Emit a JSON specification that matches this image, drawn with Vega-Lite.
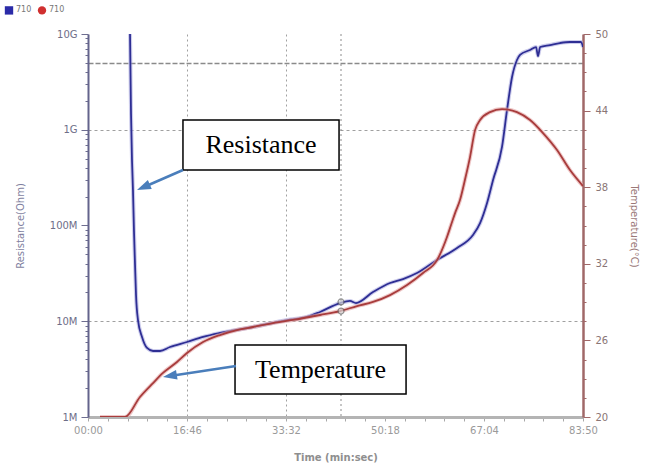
{
  "$schema": "https://vega.github.io/schema/vega-lite/v6.json",
  "width": 495,
  "height": 383,
  "autosize": "none",
  "padding": {"left": 88, "top": 34, "right": 71, "bottom": 51},
  "background": "white",
  "datasets": {
    "res": [
      {"t": 427, "R": 1e10}, {"t": 437, "R": 1.5e9}, {"t": 447, "R": 4.83e8}, {"t": 457, "R": 2.35e8},
      {"t": 467, "R": 8.98e7}, {"t": 478, "R": 3.86e7}, {"t": 488, "R": 1.88e7}, {"t": 508, "R": 1.03e7},
      {"t": 549, "R": 6.85e6}, {"t": 600, "R": 5.26e6}, {"t": 661, "R": 4.89e6}, {"t": 732, "R": 4.89e6},
      {"t": 833, "R": 5.38e6}, {"t": 1006, "R": 6.07e6}, {"t": 1169, "R": 6.85e6}, {"t": 1341, "R": 7.54e6},
      {"t": 1677, "R": 8.71e6}, {"t": 2022, "R": 1.03e7}, {"t": 2225, "R": 1.11e7}, {"t": 2358, "R": 1.25e7},
      {"t": 2561, "R": 1.55e7}, {"t": 2662, "R": 1.63e7}, {"t": 2723, "R": 1.55e7}, {"t": 2896, "R": 2.02e7},
      {"t": 3069, "R": 2.51e7}, {"t": 3201, "R": 2.76e7}, {"t": 3343, "R": 3.19e7}, {"t": 3547, "R": 4.37e7},
      {"t": 3750, "R": 5.82e7}, {"t": 3912, "R": 7.96e7}, {"t": 3984, "R": 1.06e8}, {"t": 4055, "R": 1.72e8},
      {"t": 4116, "R": 2.99e8}, {"t": 4207, "R": 6.61e8}, {"t": 4258, "R": 1.61e9}, {"t": 4309, "R": 3.56e9},
      {"t": 4359, "R": 5.35e9}, {"t": 4390, "R": 6.04e9}, {"t": 4492, "R": 6.81e9}, {"t": 4553, "R": 7.31e9},
      {"t": 4573, "R": 5.89e9}, {"t": 4594, "R": 7.31e9}, {"t": 4695, "R": 7.67e9}, {"t": 4796, "R": 8.05e9},
      {"t": 4898, "R": 8.25e9}, {"t": 5010, "R": 8.25e9}, {"t": 5030, "R": 7.31e9}
    ],
    "temp": [
      {"t": 122, "T": 20}, {"t": 376, "T": 20}, {"t": 528, "T": 21.57}, {"t": 661, "T": 22.66},
      {"t": 762, "T": 23.45}, {"t": 904, "T": 24.31}, {"t": 1006, "T": 25.01}, {"t": 1169, "T": 25.87},
      {"t": 1341, "T": 26.42}, {"t": 1514, "T": 26.81}, {"t": 1677, "T": 27.05}, {"t": 1880, "T": 27.36},
      {"t": 2083, "T": 27.6}, {"t": 2358, "T": 27.99}, {"t": 2561, "T": 28.3}, {"t": 2734, "T": 28.69},
      {"t": 2896, "T": 29.01}, {"t": 3069, "T": 29.55}, {"t": 3242, "T": 30.34}, {"t": 3404, "T": 31.28},
      {"t": 3547, "T": 32.29}, {"t": 3648, "T": 34.1}, {"t": 3689, "T": 35.04}, {"t": 3730, "T": 35.97},
      {"t": 3780, "T": 36.99}, {"t": 3831, "T": 38.6}, {"t": 3882, "T": 40.36}, {"t": 3933, "T": 42.47},
      {"t": 3984, "T": 43.26}, {"t": 4085, "T": 43.88}, {"t": 4207, "T": 44.12}, {"t": 4359, "T": 43.88},
      {"t": 4492, "T": 43.26}, {"t": 4624, "T": 42.24}, {"t": 4766, "T": 40.91}, {"t": 4898, "T": 39.34},
      {"t": 5030, "T": 38.09}
    ],
    "cursor": [{"t": 2571, "R": 1.59e7, "T": 28.3}],
    "boxR": [{"label": "Resistance", "x1": 965, "x2": 2551, "y1": 3.8e8, "y2": 1.265e9, "xc": 1758, "yc": 6.93e8, "ax": 965, "ay": 3.8e8, "hx": 563, "hy": 2.51e8}],
    "boxT": [{"label": "Temperature", "x1": 1494, "x2": 3232, "y1": 21.8, "y2": 25.64, "xc": 2363, "yc": 23.72, "ax": 1504, "ay": 23.99, "hx": 832, "hy": 23.22}],
    "legend": [{"s": "R", "t": -500}, {"s": "T", "t": -500}]
  },
  "layer": [
    {
      "layer": [
        {
          "data": {"name": "res"},
          "mark": {"type": "line", "stroke": "#a4a4dc", "strokeWidth": 4, "opacity": 0.55, "interpolate": "monotone", "clip": true},
          "encoding": {
            "x": {"field": "t", "type": "quantitative", "scale": {"domain": [0, 5030], "nice": false, "zero": false},
              "axis": {
                "title": "Time (min:sec)", "titleColor": "#8f8f8f", "titleFontWeight": "bold", "titleFontSize": 10, "titlePadding": 17,
                "labelColor": "#9a9a9a", "labelPadding": 4, "labelFontSize": 10, "labelOverlap": false, "labelFlush": false, "labelBound": false,
                "tickColor": "#a8a8a8", "tickSize": 4, "domainColor": "#b4b4b4", "domainWidth": 3, "tickCount": 100,
                "values": [0, 201.2, 402.4, 603.6, 804.8, 1006, 1207.2, 1408.4, 1609.6, 1810.8, 2012, 2213.2, 2414.4, 2615.6, 2816.8, 3018, 3219.2, 3420.4, 3621.6, 3822.8, 4024, 4225.2, 4426.4, 4627.6, 4828.8, 5030],
                "labelExpr": "abs(datum.value - round(datum.value / 1006) * 1006) < 0.5 ? ((round(datum.value) < 600 ? '0' : '') + floor(round(datum.value) / 60) + ':' + (round(datum.value) % 60 < 10 ? '0' : '') + (round(datum.value) % 60)) : ''",
                "grid": true, "gridColor": "#a0a0a0", "gridDash": [2, 3],
                "gridOpacity": {"condition": {"test": "abs(datum.value - 1006) < 0.5 || abs(datum.value - 2012) < 0.5", "value": 1}, "value": 0}
              }},
            "y": {"field": "R", "type": "quantitative", "scale": {"type": "log", "domain": [1e6, 1e10], "nice": false},
              "axis": {
                "orient": "left", "title": "Resistance(Ohm)", "titleColor": "#7f7fa0", "titlePadding": 24, "titleFontSize": 10,
                "labelColor": "#6e6e88", "labelPadding": 4, "labelFontSize": 10, "labelOverlap": false, "tickCount": 100,
                "tickColor": "#6e6e90",
                "tickSize": {"condition": {"test": "datum.value == 1e6 || datum.value == 1e7 || datum.value == 1e8 || datum.value == 1e9 || datum.value == 1e10", "value": 7}, "value": 3},
                "domainColor": "#64648c", "domainWidth": 2,
                "values": [1e6, 2e6, 3e6, 4e6, 5e6, 6e6, 7e6, 8e6, 9e6, 1e7, 2e7, 3e7, 4e7, 5e7, 6e7, 7e7, 8e7, 9e7, 1e8, 2e8, 3e8, 4e8, 5e8, 6e8, 7e8, 8e8, 9e8, 1e9, 2e9, 3e9, 4e9, 5e9, 6e9, 7e9, 8e9, 9e9, 1e10],
                "labelExpr": "datum.value == 1e6 ? '1M' : datum.value == 1e7 ? '10M' : datum.value == 1e8 ? '100M' : datum.value == 1e9 ? '1G' : datum.value == 1e10 ? '10G' : ''",
                "grid": true,
                "gridColor": {"condition": {"test": "datum.value == 5e9", "value": "#8a8a8a"}, "value": "#a0a0a0"},
                "gridDash": {"condition": {"test": "datum.value == 5e9", "value": [5, 2]}, "value": [3, 3]},
                "gridWidth": {"condition": {"test": "datum.value == 5e9", "value": 1.4}, "value": 1},
                "gridOpacity": {"condition": {"test": "datum.value == 5e9 || datum.value == 1e9 || datum.value == 1e7", "value": 1}, "value": 0}
              }}
          }
        },
        {
          "data": {"name": "res"},
          "mark": {"type": "line", "stroke": "#2e2e94", "strokeWidth": 1.8, "interpolate": "monotone", "clip": true},
          "encoding": {
            "x": {"field": "t", "type": "quantitative", "scale": {"domain": [0, 5030], "nice": false, "zero": false}},
            "y": {"field": "R", "type": "quantitative", "scale": {"type": "log", "domain": [1e6, 1e10], "nice": false}}
          }
        },
        {
          "data": {"name": "cursor"},
          "mark": {"type": "rule", "stroke": "#8c8c8c", "strokeDash": [2, 3], "strokeWidth": 1},
          "encoding": {
            "x": {"field": "t", "type": "quantitative", "scale": {"domain": [0, 5030], "nice": false, "zero": false}}
          }
        },
        {
          "data": {"name": "cursor"},
          "mark": {"type": "point", "shape": "circle", "size": 36, "filled": true, "fill": "#d8d8d8", "stroke": "#666666", "strokeWidth": 1.2},
          "encoding": {
            "x": {"field": "t", "type": "quantitative", "scale": {"domain": [0, 5030], "nice": false, "zero": false}},
            "y": {"field": "R", "type": "quantitative", "scale": {"type": "log", "domain": [1e6, 1e10], "nice": false}}
          }
        },
        {
          "data": {"name": "boxR"},
          "mark": {"type": "rect", "fill": "white", "stroke": "black", "strokeWidth": 1.5},
          "encoding": {
            "x": {"field": "x1", "type": "quantitative", "scale": {"domain": [0, 5030], "nice": false, "zero": false}},
            "x2": {"field": "x2"},
            "y": {"field": "y1", "type": "quantitative", "scale": {"type": "log", "domain": [1e6, 1e10], "nice": false}},
            "y2": {"field": "y2"}
          }
        },
        {
          "data": {"name": "boxR"},
          "mark": {"type": "text", "font": "Liberation Serif", "fontSize": 26, "color": "black", "align": "center", "baseline": "middle"},
          "encoding": {
            "x": {"field": "xc", "type": "quantitative", "scale": {"domain": [0, 5030], "nice": false, "zero": false}},
            "y": {"field": "yc", "type": "quantitative", "scale": {"type": "log", "domain": [1e6, 1e10], "nice": false}},
            "text": {"field": "label"}
          }
        },
        {
          "data": {"name": "boxR"},
          "mark": {"type": "rule", "stroke": "#4a7ebb", "strokeWidth": 2.5},
          "encoding": {
            "x": {"field": "ax", "type": "quantitative", "scale": {"domain": [0, 5030], "nice": false, "zero": false}},
            "x2": {"field": "hx"},
            "y": {"field": "ay", "type": "quantitative", "scale": {"type": "log", "domain": [1e6, 1e10], "nice": false}},
            "y2": {"field": "hy"}
          }
        },
        {
          "data": {"name": "boxR"},
          "mark": {"type": "point", "shape": "M0,-1L0.7,1L-0.7,1Z", "size": 196, "filled": true, "color": "#4a7ebb", "opacity": 1, "angle": 246.5},
          "encoding": {
            "x": {"field": "hx", "type": "quantitative", "scale": {"domain": [0, 5030], "nice": false, "zero": false}},
            "y": {"field": "hy", "type": "quantitative", "scale": {"type": "log", "domain": [1e6, 1e10], "nice": false}}
          }
        },
        {
          "data": {"name": "legend"},
          "mark": {"type": "point", "filled": true, "clip": true, "opacity": 1},
          "encoding": {
            "x": {"field": "t", "type": "quantitative", "scale": {"domain": [0, 5030], "nice": false, "zero": false}},
            "color": {"field": "s", "type": "nominal", "scale": {"domain": ["R", "T"], "range": ["#2b2ba8", "#d03030"]},
              "legend": {"orient": "none", "legendX": -84, "legendY": -29, "direction": "horizontal", "title": null, "labelExpr": "'710'", "labelFontSize": 8, "labelColor": "#777777", "symbolSize": 70, "labelOffset": 2, "columnPadding": 5, "padding": 0}},
            "shape": {"field": "s", "type": "nominal", "scale": {"domain": ["R", "T"], "range": ["square", "circle"]},
              "legend": {"orient": "none", "legendX": -84, "legendY": -29, "direction": "horizontal", "title": null, "labelExpr": "'710'", "labelFontSize": 8, "labelColor": "#777777", "symbolSize": 70, "labelOffset": 2, "columnPadding": 5, "padding": 0}}
          }
        }
      ]
    },
    {
      "layer": [
        {
          "data": {"name": "temp"},
          "mark": {"type": "line", "stroke": "#e2a4a4", "strokeWidth": 4, "opacity": 0.6, "interpolate": "monotone", "clip": true},
          "encoding": {
            "x": {"field": "t", "type": "quantitative", "scale": {"domain": [0, 5030], "nice": false, "zero": false}},
            "y": {"field": "T", "type": "quantitative", "scale": {"domain": [20, 50], "nice": false, "zero": false},
              "axis": {
                "orient": "right", "title": "Temperature(°C)", "titleColor": "#9a7878", "titlePadding": 21, "titleFontSize": 10,
                "labelColor": "#8a7575", "labelPadding": 5, "labelFontSize": 10, "labelOverlap": false, "tickCount": 100,
                "tickColor": "#a06868", "domainColor": "#a06868", "domainWidth": 2.5,
                "values": [20, 21.5, 23, 24.5, 26, 27.5, 29, 30.5, 32, 33.5, 35, 36.5, 38, 39.5, 41, 42.5, 44, 45.5, 47, 48.5, 50],
                "labelExpr": "abs((datum.value - 20) % 6) < 0.01 ? format(datum.value, 'd') : ''",
                "tickSize": {"condition": {"test": "abs((datum.value - 20) % 6) < 0.01", "value": 7}, "value": 3},
                "grid": false
              }}
          }
        },
        {
          "data": {"name": "temp"},
          "mark": {"type": "line", "stroke": "#a83c3c", "strokeWidth": 1.8, "interpolate": "monotone", "clip": true},
          "encoding": {
            "x": {"field": "t", "type": "quantitative", "scale": {"domain": [0, 5030], "nice": false, "zero": false}},
            "y": {"field": "T", "type": "quantitative", "scale": {"domain": [20, 50], "nice": false, "zero": false}}
          }
        },
        {
          "data": {"name": "cursor"},
          "mark": {"type": "point", "shape": "circle", "size": 36, "filled": true, "fill": "#d8d8d8", "stroke": "#666666", "strokeWidth": 1.2},
          "encoding": {
            "x": {"field": "t", "type": "quantitative", "scale": {"domain": [0, 5030], "nice": false, "zero": false}},
            "y": {"field": "T", "type": "quantitative", "scale": {"domain": [20, 50], "nice": false, "zero": false}}
          }
        },
        {
          "data": {"name": "boxT"},
          "mark": {"type": "rect", "fill": "white", "stroke": "black", "strokeWidth": 1.5},
          "encoding": {
            "x": {"field": "x1", "type": "quantitative", "scale": {"domain": [0, 5030], "nice": false, "zero": false}},
            "x2": {"field": "x2"},
            "y": {"field": "y1", "type": "quantitative", "scale": {"domain": [20, 50], "nice": false, "zero": false}},
            "y2": {"field": "y2"}
          }
        },
        {
          "data": {"name": "boxT"},
          "mark": {"type": "text", "font": "Liberation Serif", "fontSize": 26, "color": "black", "align": "center", "baseline": "middle"},
          "encoding": {
            "x": {"field": "xc", "type": "quantitative", "scale": {"domain": [0, 5030], "nice": false, "zero": false}},
            "y": {"field": "yc", "type": "quantitative", "scale": {"domain": [20, 50], "nice": false, "zero": false}},
            "text": {"field": "label"}
          }
        },
        {
          "data": {"name": "boxT"},
          "mark": {"type": "rule", "stroke": "#4a7ebb", "strokeWidth": 2.5},
          "encoding": {
            "x": {"field": "ax", "type": "quantitative", "scale": {"domain": [0, 5030], "nice": false, "zero": false}},
            "x2": {"field": "hx"},
            "y": {"field": "ay", "type": "quantitative", "scale": {"domain": [20, 50], "nice": false, "zero": false}},
            "y2": {"field": "hy"}
          }
        },
        {
          "data": {"name": "boxT"},
          "mark": {"type": "point", "shape": "M0,-1L0.7,1L-0.7,1Z", "size": 196, "filled": true, "color": "#4a7ebb", "opacity": 1, "angle": 260.8},
          "encoding": {
            "x": {"field": "hx", "type": "quantitative", "scale": {"domain": [0, 5030], "nice": false, "zero": false}},
            "y": {"field": "hy", "type": "quantitative", "scale": {"domain": [20, 50], "nice": false, "zero": false}}
          }
        }
      ]
    }
  ],
  "resolve": {"scale": {"y": "independent"}},
  "config": {
    "font": "DejaVu Sans",
    "view": {"stroke": null},
    "axis": {"labelFont": "DejaVu Sans", "titleFont": "DejaVu Sans", "titleFontWeight": "normal", "labelFlush": false, "labelOverlap": false}
  }
}
